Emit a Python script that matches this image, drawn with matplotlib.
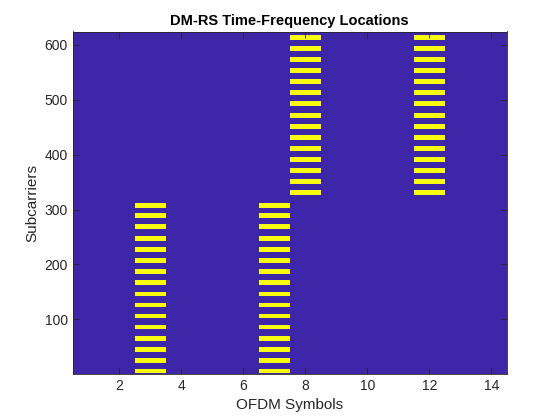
import matplotlib
matplotlib.use("Agg")
import matplotlib.pyplot as plt
from matplotlib.colors import ListedColormap
import numpy as np

plt.rcParams['font.family'] = ['Liberation Sans', 'DejaVu Sans']

n_subcarriers = 624
n_symbols = 14
# DM-RS symbol columns for each half of the band
lower_symbols = [3, 7]
upper_symbols = [8, 12]
# first subcarrier of each visible DM-RS stripe
lower_starts = [2, 21, 41, 61, 82, 102, 122, 142, 163, 183, 203, 223, 243, 264, 284, 303]
upper_starts = [326, 346, 366, 387, 407, 427, 447, 467, 488, 508, 528, 548, 568, 589, 608]
stripe_len = 9

grid = np.zeros((n_subcarriers, n_symbols))
for s in lower_starts:
    for sym in lower_symbols:
        grid[s - 1:s - 1 + stripe_len, sym - 1] = 1
for s in upper_starts:
    for sym in upper_symbols:
        grid[s - 1:s - 1 + stripe_len, sym - 1] = 1

cmap = ListedColormap(['#3e26a8', '#f9fb0e'])

fig = plt.figure(figsize=(5.6, 4.2), dpi=100)
ax = fig.add_axes([0.13, 0.11, 0.775, 0.815])
ax.imshow(grid, origin='lower', aspect='auto', cmap=cmap, interpolation='nearest',
          extent=[0.5, n_symbols + 0.5, 0.5, n_subcarriers + 0.5])
ax.set_xlim(0.5, n_symbols + 0.5)
ax.set_ylim(0.5, n_subcarriers + 0.5)
ax.set_xticks([2, 4, 6, 8, 10, 12, 14])
ax.set_yticks([100, 200, 300, 400, 500, 600])

dark = '#262626'
ax.tick_params(direction='in', top=True, right=True, length=4, width=0.6,
               colors=dark, labelsize=10)
for sp in ax.spines.values():
    sp.set_color(dark)
    sp.set_linewidth(0.6)

ax.set_xlabel('OFDM Symbols', fontsize=11, color=dark)
ax.set_ylabel('Subcarriers', fontsize=11, color=dark)
ax.set_title('DM-RS Time-Frequency Locations', fontsize=10.5, fontweight='bold',
             color='black', pad=5)

fig.savefig('out.png', dpi=100)
